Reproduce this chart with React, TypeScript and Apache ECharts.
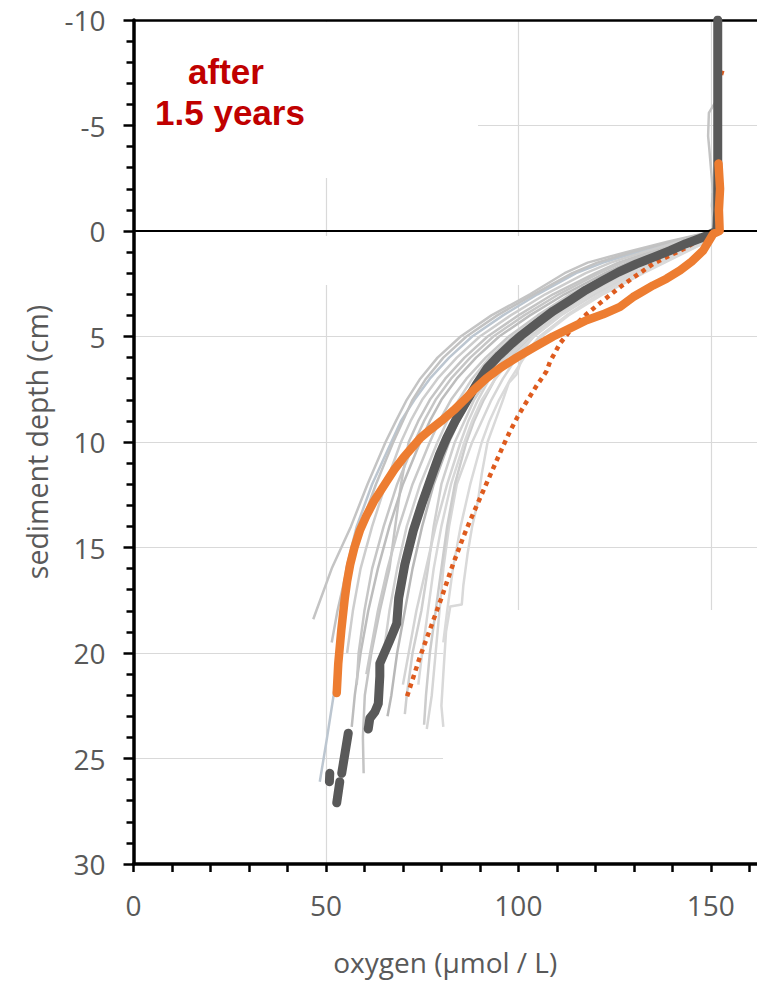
import React, { useEffect, useRef } from "react";
import * as echarts from "echarts";

// axis ticks / labels
const xTickValues = [0, 10, 20, 30, 40, 50, 60, 70, 80, 90, 100, 110, 120, 130, 140, 150, 160];
const xLabelValues = [0, 50, 100, 150];

// [oxygen, depth]
const meanMain = [
  [151.8, -10], [151.8, -5], [151.8, -1], [151.5, 0], [148, 0.3], [143.5, 0.6], [139.4, 0.93],
  [135, 1.25], [130.7, 1.56], [126, 1.95], [122, 2.34], [117.5, 2.8], [113.4, 3.29], [109, 3.8],
  [104.7, 4.39], [100.8, 4.94], [98.3, 5.33], [95, 5.9], [92, 6.47], [89, 7.3], [86, 8.24],
  [83.6, 9], [81.4, 9.8], [79.5, 10.6], [77.9, 11.4], [75, 12.9], [72.7, 14.2], [70.5, 15.8],
  [68.9, 17.4], [68.4, 18.6], [66.6, 19.4], [64, 20.5], [64, 21.1], [63.6, 22.4], [62.7, 22.8],
  [61.4, 23.1], [61, 23.6],
];
const meanSeg2 = [[55.8, 23.8], [54.1, 25.7]];
const meanSeg3 = [[51, 25.7], [50.9, 26.1]];
const meanSeg4 = [[53.6, 26.1], [52.8, 27.1]];

const afterProfile = [
  [152, -3.2], [152.4, -2], [152.1, -1], [152.3, 0], [150.6, 0.14], [148, 0.93], [145, 1.45],
  [142, 1.87], [138.5, 2.26], [135, 2.58], [131.5, 2.95], [129.8, 3.13], [126.4, 3.6], [122, 3.95],
  [117.7, 4.23], [113.5, 4.6], [109, 5.0], [104.2, 5.5], [99.5, 6.0], [95.2, 6.5], [91.6, 7.0],
  [88.6, 7.5], [86, 8.0], [83.2, 8.5], [80, 9.0], [77.2, 9.4], [74.6, 9.8], [72.2, 10.3],
  [70.1, 10.75], [67.8, 11.3], [65.8, 11.86], [62.5, 12.8], [60.5, 13.5], [58.8, 14.2],
  [57.4, 15], [56.3, 15.8], [55.5, 16.6], [54.9, 17.4], [54, 18.9], [53.2, 20.5], [52.8, 21.9],
];

const modelProfile = [
  [153, -7.6], [152, -7], [152, -3], [151.8, 0], [149.7, 0.14], [146.5, 0.45], [143.7, 0.78],
  [139.5, 1.15], [135, 1.56], [130.7, 2.1], [126.4, 2.66], [122, 3.3], [117.7, 3.94], [114, 4.6],
  [110.8, 5.33], [108.2, 6.2], [107.3, 6.65], [104.5, 7.4], [102.1, 8.1], [99.8, 8.8], [97.8, 9.5],
  [96, 10.2], [94.3, 10.9], [90.9, 12.3], [87.4, 13.75], [85.7, 14.5], [83, 15.8], [80, 17.4],
  [77, 18.9], [74.4, 20.2], [71, 22.1],
];

const gray1 = [[151.5, -6.2], [149.5, -5.6], [149.3, -4.5], [149.6, -3.9], [150.5, -2], [151, 0], [139, 0.5], [128, 1], [118, 1.5], [112, 2], [103, 3], [93, 4], [85, 5], [79, 6], [74.5, 7], [71, 8], [68.2, 9], [65.5, 10], [60.8, 12], [56.5, 14], [51.5, 16], [47.5, 18], [46.7, 18.4]];
const gray2 = [[151, 0], [141, 0.5], [131, 1], [122, 1.5], [115, 2], [105, 3], [96, 4], [88, 5], [82, 6], [77, 7], [73, 8], [69.5, 9], [67, 10], [62, 12], [58, 14], [55.3, 16], [54.2, 18], [53.4, 20], [52, 22], [50.3, 24], [48.4, 26.1]];
const gray3 = [[151.5, 0], [143, 0.5], [134, 1], [126, 1.5], [120, 2], [109, 3], [100, 4], [92, 5], [86, 6], [81, 7], [77, 8], [74, 9], [71.5, 10], [69.5, 12], [68, 14], [66.5, 16], [64, 18], [61.8, 20], [60.1, 22], [59.6, 24], [59.8, 25.7]];
const gray4 = [[151.5, 0], [147, 0.5], [140, 1], [133, 1.5], [127, 2], [117, 3], [109, 4], [102, 5], [96.5, 6], [92, 7], [88.5, 8], [86, 9], [83.5, 10], [80, 12], [78, 14], [76.5, 16], [74.8, 18], [72.5, 20], [71, 22], [70.5, 22.9]];
const gray5 = [[152, 0], [148.5, 0.5], [142, 1], [136, 1.5], [130, 2], [120, 3], [111, 4], [104, 5], [99.5, 6], [96, 7], [93, 8], [90.5, 9], [88, 10], [84, 12], [82, 14], [80.5, 16], [79.5, 18], [78.5, 20], [77.5, 22], [76.2, 23.6]];
const gray6 = [[152.5, -4], [152, 0], [149, 0.5], [143, 1], [137, 1.5], [131, 2], [121, 3], [112.5, 4], [105.5, 5], [101, 6], [99.5, 6.8], [97.5, 7.2], [96, 8], [94, 9], [92, 10], [90.5, 11.5], [89.5, 12.8], [88, 14], [86.8, 15.3], [85.7, 16.8], [85.3, 17.7], [82.3, 17.8], [81.2, 19], [80.5, 21], [80, 22.5], [80.5, 23.5]];
const gray7 = [[152, 0], [148, 0.5], [141, 1], [134.5, 1.5], [128.5, 2], [119, 3], [110.5, 4], [103.5, 5], [98, 6], [94, 7], [91, 8], [88.5, 9], [86.5, 10], [83.5, 12], [81.5, 14], [80, 16], [78.5, 18], [77, 20], [76, 22], [75.5, 23.4]];
const gray8 = [[151.5, 0], [144, 0.5], [136, 1], [128.5, 1.5], [122.5, 2], [112, 3], [103, 4], [95, 5], [89, 6], [84, 7], [80, 8], [77, 9], [74.5, 10], [70, 12], [66.5, 14], [63.5, 16], [61, 18], [59, 20], [57.5, 22], [56.7, 23.5]];
const gray9 = [[151.5, 0], [145, 0.5], [137.5, 1], [130, 1.5], [124, 2], [113.5, 3], [105, 4], [97.5, 5], [91.5, 6], [86.5, 7], [82.5, 8], [79.5, 9], [77, 10], [72.5, 12], [69, 14], [66, 16], [63.5, 18], [61.5, 20], [60.5, 21]];
const gray10 = [[152, 0], [147.5, 0.5], [140.5, 1], [134, 1.5], [128, 2], [118, 3], [110, 4], [103, 5], [97, 6], [92.5, 7], [89.5, 8], [87, 9], [85, 10], [81.5, 12], [78.5, 14], [76, 16], [73.5, 18], [71.5, 20], [70, 21.5]];
const gray11 = [[150.5, -1.8], [150.3, -1.2], [151, 0], [140, 0.5], [129.5, 1], [120.5, 1.5], [114, 2], [104, 3], [94.5, 4], [86.5, 5], [80.5, 6], [76, 7], [72.5, 8], [70, 9], [67.5, 10], [63, 12], [59, 14], [55.5, 16], [53, 18], [51.5, 19.5]];
const gray12 = [[151.5, 0], [146.5, 0.5], [139.5, 1], [132.5, 1.5], [126.5, 2], [116, 3], [108, 4], [101, 5], [95.5, 6], [91, 7], [87.5, 8], [84.5, 9], [82, 10], [78, 12], [75, 14], [72.5, 16], [70.5, 18], [68.5, 20], [67, 22], [66, 23]];
const gray13 = [[151, 0], [142, 0.5], [132.5, 1], [124, 1.5], [117.5, 2], [107, 3], [98, 4], [90, 5], [84, 6], [79, 7], [75, 8], [72, 9], [69.5, 10], [65.5, 12], [62, 14], [59, 16], [57, 18], [55.5, 20]];
const gray14 = [[152, 0], [149, 0.5], [143.5, 1], [138, 1.5], [132.5, 2], [122, 3], [113, 4], [106, 5], [101.5, 6], [98, 7], [95, 8], [92.5, 9], [90.5, 10], [87.5, 12], [85, 14], [83, 16], [81.5, 18], [80.5, 19.5]];
const gray15 = [[151.5, 0], [145.5, 0.5], [138, 1], [131, 1.5], [125, 2], [114.5, 3], [106, 4], [98.5, 5], [92.5, 6], [88, 7], [84.5, 8], [81.5, 9], [79, 10], [74.5, 12], [71, 14], [68.5, 16], [66.5, 18], [65, 20], [64.5, 21]];
const gray16 = [[151, 0], [143.5, 0.5], [135, 1], [127, 1.5], [121, 2], [110.5, 3], [101.5, 4], [93.5, 5], [87.5, 6], [82.5, 7], [78.5, 8], [75.5, 9], [73, 10], [68.5, 12], [65, 14], [62, 16], [60, 18], [58.5, 20], [58, 21.5]];
const gray17 = [[152, 0], [148, 0.5], [141.5, 1], [135, 1.5], [129, 2], [119, 3], [111, 4], [104, 5], [98.5, 6], [94, 7], [90.5, 8], [88, 9], [86, 10], [82.5, 12], [80, 14], [78, 16], [76.5, 18], [75, 20], [74, 21.5]];

const grayProfiles = [gray1, gray2, gray3, gray4, gray5, gray6, gray7, gray8, gray9, gray10, gray11, gray12, gray13, gray14, gray15, gray16, gray17];
const grayColors = ["#c4c4c4", "#bcc6d0", "#c4c4c4", "#cfcfcf", "#d6d6d6", "#d9d9d9", "#cccccc", "#bdbdbd", "#c9c9c9", "#d4d4d4", "#c2c2c2", "#b8b8b8", "#cdcdcd", "#dadada", "#d0d0d0", "#c6c6c6", "#d8d8d8"];

export default function App() {
  const ref = useRef<HTMLDivElement>(null);

  useEffect(() => {
    if (!ref.current) return;
    const chart = echarts.init(ref.current, null, { renderer: "svg" });
    const labelColor = "#595959";
    const font = "Open Sans";

    const graySeries = grayProfiles.map((d, i) => ({
      type: "line",
      data: d,
      showSymbol: false,
      symbol: "none",
      lineStyle: { color: grayColors[i], width: 2.5, join: "round" },
      z: 2,
      silent: true,
    }));

    const thick = (data: number[][], color: string, width: number, z: number) => ({
      type: "line",
      data,
      showSymbol: false,
      symbol: "none",
      lineStyle: { color, width, cap: "round", join: "round" },
      z,
      silent: true,
    });

    const option: any = {
      animation: false,
      textStyle: { fontFamily: font },
      grid: { left: 133.5, right: 0, top: 20, bottom: 113, containLabel: false },
      xAxis: [
        {
          type: "value",
          position: "bottom",
          min: 0,
          max: 162,
          interval: 10,
          name: "oxygen (µmol / L)",
          nameLocation: "middle",
          nameGap: 84,
          nameTextStyle: { color: labelColor, fontSize: 28, fontFamily: font },
          axisLine: { show: true, onZero: false, lineStyle: { color: "#000", width: 3.5 } },
          axisTick: { show: true, length: 8, lineStyle: { color: "#000", width: 2.5 }, customValues: xTickValues },
          axisLabel: {
            color: labelColor,
            fontSize: 28,
            fontFamily: font,
            margin: 27,
            customValues: xLabelValues,
            formatter: (v: number) => (v % 50 === 0 ? String(v) : ""),
          },
          splitLine: { show: false },
        },
        {
          type: "value",
          position: "top",
          min: 0,
          max: 162,
          interval: 50,
          axisLine: { show: true, onZero: false, lineStyle: { color: "#000", width: 2.5 } },
          axisTick: { show: false },
          axisLabel: { show: false },
          splitLine: { show: true, showMinLine: false, showMaxLine: false, lineStyle: { color: "#d9d9d9", width: 1.2 } },
        },
      ],
      yAxis: [
        {
          type: "value",
          inverse: true,
          min: -10,
          max: 30,
          interval: 5,
          name: "sediment depth (cm)",
          nameLocation: "middle",
          nameGap: 82,
          nameTextStyle: { color: labelColor, fontSize: 28.5, fontFamily: font },
          axisLine: { show: true, onZero: false, lineStyle: { color: "#000", width: 3.5 } },
          axisTick: { show: true, length: 10, lineStyle: { color: "#000", width: 2.5 } },
          minorTick: { show: true, splitNumber: 5, length: 7, lineStyle: { color: "#000", width: 2.5 } },
          axisLabel: { color: labelColor, fontSize: 28, fontFamily: font, margin: 28 },
          splitLine: { show: true, lineStyle: { color: "#d9d9d9", width: 1.2 } },
        },
      ],
      graphic: [
        { type: "rect", z: 1, silent: true, shape: { x: 136, y: 22, width: 342, height: 156 }, style: { fill: "#fff" } },
        { type: "rect", z: 1, silent: true, shape: { x: 136, y: 236, width: 424, height: 49 }, style: { fill: "#fff" } },
        { type: "rect", z: 1, silent: true, shape: { x: 443, y: 610, width: 314, height: 252 }, style: { fill: "#fff" } },
        {
          type: "text",
          z: 10,
          x: 226,
          y: 71,
          style: { text: "after", fill: "#C00000", font: "bold 35px 'Liberation Sans', Arial, sans-serif", align: "center", verticalAlign: "middle" },
        },
        {
          type: "text",
          z: 10,
          x: 230,
          y: 112,
          style: { text: "1.5 years", fill: "#C00000", font: "bold 35px 'Liberation Sans', Arial, sans-serif", align: "center", verticalAlign: "middle" },
        },
      ],
      series: [
        ...graySeries,
        {
          type: "line",
          data: modelProfile,
          showSymbol: false,
          symbol: "none",
          lineStyle: { color: "#DE5B1E", width: 4.5, type: [4.5, 4.5], cap: "butt" },
          z: 3,
          silent: true,
        },
        {
          ...thick(meanMain, "#595959", 9, 4),
          markLine: {
            silent: true,
            symbol: ["none", "none"],
            label: { show: false },
            lineStyle: { color: "#000", width: 2, type: "solid" },
            data: [{ yAxis: 0 }],
          },
        },
        thick(meanSeg2, "#595959", 9, 4),
        thick(meanSeg3, "#595959", 9, 4),
        thick(meanSeg4, "#595959", 9, 4),
        thick(afterProfile, "#ED7D31", 8.5, 5),
      ],
    };

    chart.setOption(option);
    return () => chart.dispose();
  }, []);

  return (
    <div
      ref={ref}
      style={{ position: "absolute", left: 0, top: 0, width: 757, height: 981, background: "#fff" }}
    />
  );
}
